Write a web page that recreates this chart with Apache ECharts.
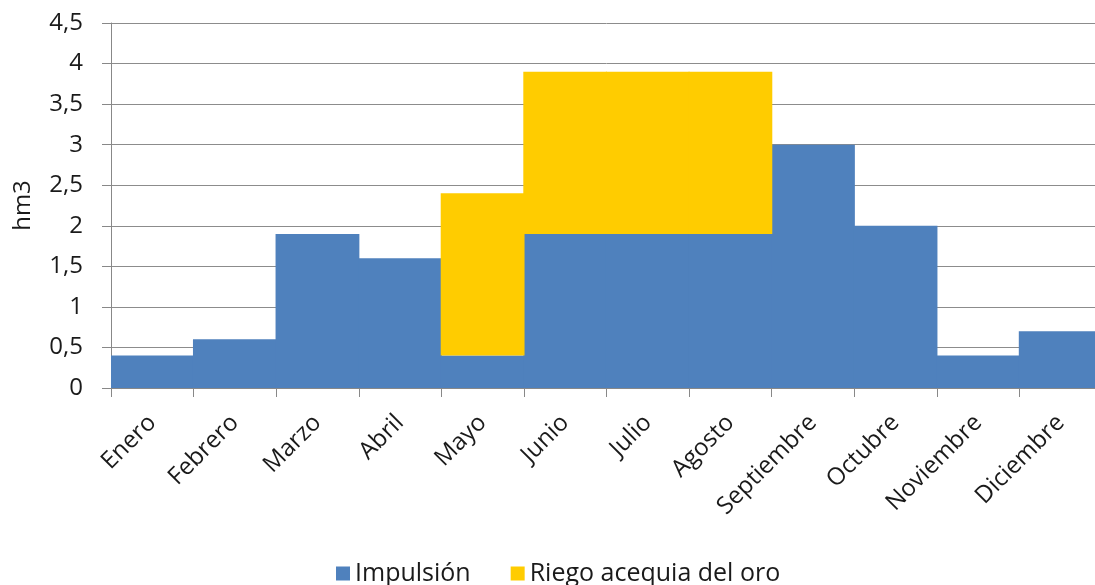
<!DOCTYPE html>
<html>
<head>
<meta charset="utf-8">
<script src="https://cdn.jsdelivr.net/npm/echarts@6/dist/echarts.min.js"></script>
<style>html,body{margin:0;padding:0;background:#fff;overflow:hidden;width:1095px;height:585px}#c{width:1102px;height:585px}</style>
</head>
<body>
<div id="c"></div>
<script>
const categories = ['Enero','Febrero','Marzo','Abril','Mayo','Junio','Julio','Agosto','Septiembre','Octubre','Noviembre','Diciembre'];
const impulsion = [0.4, 0.6, 1.9, 1.6, 0.4, 1.9, 1.9, 1.9, 3.0, 2.0, 0.4, 0.7];
const riego = [null, null, null, null, 2.0, 2.0, 2.0, 2.0, null, null, null, null];
const seriesNames = ['Impulsión', 'Riego acequia del oro'];

const chart = echarts.init(document.getElementById('c'));
const font = '"Open Sans", "DejaVu Sans", sans-serif';
chart.setOption({
  animation: false,
  textStyle: {fontFamily: font},
  grid: {left: 111, right: 0, top: 23, bottom: 197},
  legend: {
    bottom: -6, left: 331, itemWidth: 14, itemHeight: 14, itemGap: 40,
    icon: 'rect',
    textStyle: {fontSize: 25, color: '#1a1a1a', fontFamily: font, padding: [0, 0, 0, 0]},
    data: seriesNames
  },
  xAxis: {
    type: 'category', data: categories,
    axisLine: {lineStyle: {color: '#888', width: 1}},
    axisTick: {show: true, length: 9, lineStyle: {color: '#888'}},
    axisLabel: {rotate: 45, fontSize: 24, color: '#1a1a1a', margin: 31, interval: 0, fontFamily: font}
  },
  yAxis: {
    type: 'value', min: 0, max: 4.5, interval: 0.5,
    name: 'hm3', nameLocation: 'middle', nameGap: 76,
    nameTextStyle: {fontSize: 24, color: '#1a1a1a', fontFamily: font},
    axisLine: {show: true, lineStyle: {color: '#888'}},
    axisTick: {show: true, inside: false, length: 9, lineStyle: {color: '#888'}},
    axisLabel: {fontSize: 24, color: '#1a1a1a', margin: 28, fontFamily: font, formatter: v => String(v).replace('.', ',')},
    splitLine: {lineStyle: {color: '#8c8c8c', width: 1}}
  },
  series: [
    {name: seriesNames[0], type: 'bar', stack: 'a', data: impulsion, barCategoryGap: '-1.5%',
     itemStyle: {color: '#4F81BD'}},
    {name: seriesNames[1], type: 'bar', stack: 'a', data: riego, barCategoryGap: '-1.5%',
     itemStyle: {color: '#FFCC00'}}
  ]
});
</script>
</body>
</html>
